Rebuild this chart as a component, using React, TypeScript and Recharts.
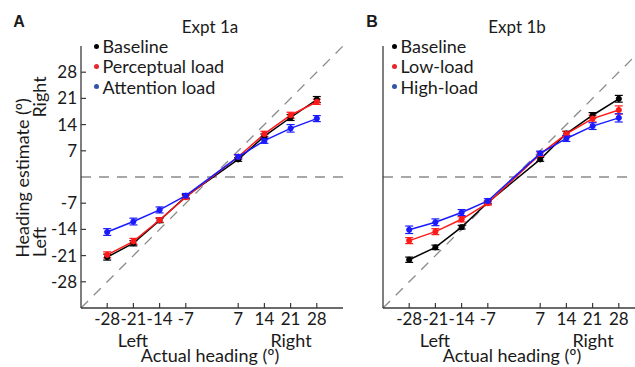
import React from "react";
import {
  ErrorBar,
  Legend,
  Line,
  LineChart,
  ReferenceLine,
  XAxis,
  YAxis,
} from "recharts";

// actual heading (deg)
const headings = [-28, -21, -14, -7, 7, 14, 21, 28];
const axisTicks = [-28, -21, -14, -7, 7, 14, 21, 28];

// Expt 1a
const baseline1a = [-21.4, -17.7, -11.6, -5.2, 4.7, 10.9, 15.9, 20.7];
const baseline1aErr = [0.8, 0.7, 0.6, 0.5, 0.5, 0.6, 0.8, 0.8];
const perceptual1a = [-20.8, -17.2, -11.5, -5.4, 5.4, 11.5, 16.5, 20.1];
const perceptual1aErr = [0.8, 0.8, 0.6, 0.5, 0.5, 0.7, 0.8, 0.7];
const attention1a = [-14.7, -11.9, -8.8, -5.0, 5.4, 9.7, 13.0, 15.6];
const attention1aErr = [0.9, 0.9, 0.8, 0.6, 0.6, 0.7, 1.0, 0.8];

// Expt 1b
const baseline1b = [-22.1, -18.8, -13.4, -6.8, 4.7, 11.6, 16.5, 20.9];
const baseline1bErr = [0.7, 0.6, 0.5, 0.4, 0.5, 0.6, 0.7, 0.9];
const low1b = [-17.0, -14.6, -11.3, -7.0, 6.1, 11.5, 15.6, 17.9];
const low1bErr = [0.8, 0.8, 0.7, 0.5, 0.6, 0.7, 0.9, 1.1];
const high1b = [-14.1, -12.1, -9.5, -6.4, 6.3, 10.3, 13.6, 15.8];
const high1bErr = [1.0, 0.9, 0.8, 0.6, 0.6, 0.8, 0.9, 1.1];

type Series = {
  key: string;
  name: string;
  color: string;
  legendColor: string;
  values: number[];
  errors: number[];
};

const seriesA: Series[] = [
  { key: "baseline", name: "Baseline", color: "#000000", legendColor: "#000000", values: baseline1a, errors: baseline1aErr },
  { key: "perceptual", name: "Perceptual load", color: "#ff1a1a", legendColor: "#e8262b", values: perceptual1a, errors: perceptual1aErr },
  { key: "attention", name: "Attention load", color: "#1a1aff", legendColor: "#2f55a8", values: attention1a, errors: attention1aErr },
];

const seriesB: Series[] = [
  { key: "baseline", name: "Baseline", color: "#000000", legendColor: "#000000", values: baseline1b, errors: baseline1bErr },
  { key: "low", name: "Low-load", color: "#ff1a1a", legendColor: "#e8262b", values: low1b, errors: low1bErr },
  { key: "high", name: "High-load", color: "#1a1aff", legendColor: "#2f55a8", values: high1b, errors: high1bErr },
];

const FONT = "Lato, 'Open Sans', sans-serif";
const AXIS = "#3a3a3a";
const DASH = "#8a8a8a";

function Panel({
  series,
  left,
  width,
  marginLeft,
  marginRight,
  showYLabels,
  legendLeft,
}: {
  series: Series[];
  left: number;
  width: number;
  marginLeft: number;
  marginRight: number;
  showYLabels: boolean;
  legendLeft: number;
}) {
  const data = headings.map((h, i) => {
    const row: Record<string, number> = { heading: h };
    series.forEach((s) => {
      row[s.key] = s.values[i];
      row[s.key + "Err"] = s.errors[i];
    });
    return row;
  });

  return (
    <div style={{ position: "absolute", left, top: 0 }}>
      <LineChart
        width={width}
        height={367}
        data={data}
        margin={{ top: 46, right: marginRight, bottom: 29, left: marginLeft }}
      >
        <XAxis
          dataKey="heading"
          type="number"
          domain={[-35, 35]}
          ticks={axisTicks}
          interval={0}
          height={30}
          tickSize={-5}
          tickMargin={10}
          axisLine={{ stroke: AXIS, strokeWidth: 1.3 }}
          tickLine={{ stroke: AXIS, strokeWidth: 1.2 }}
          tick={{ fill: "#1a1a1a", fontSize: 17, fontFamily: FONT }}
        />
        <YAxis
          type="number"
          domain={[-35, 35]}
          ticks={axisTicks}
          interval={0}
          width={30}
          tickSize={-5}
          tickMargin={9}
          axisLine={{ stroke: AXIS, strokeWidth: 1.3 }}
          tickLine={{ stroke: AXIS, strokeWidth: 1.2 }}
          tick={showYLabels ? { fill: "#1a1a1a", fontSize: 17, fontFamily: FONT } : false}
        />
        <ReferenceLine y={0} stroke={DASH} strokeWidth={1.3} strokeDasharray="10 8" />
        <ReferenceLine
          segment={[
            { x: -35, y: -35 },
            { x: 35, y: 35 },
          ]}
          stroke={DASH}
          strokeWidth={1.3}
          strokeDasharray="10 8"
        />
        <Legend
          layout="vertical"
          align="center"
          verticalAlign="middle"
          wrapperStyle={{ left: legendLeft, top: 36, width: 200 }}
          content={() => (
            <div style={{ fontFamily: FONT, fontSize: 18, color: "#1a1a1a" }}>
              {series.map((s) => (
                <div key={s.key} style={{ display: "flex", alignItems: "center", height: 20.3 }}>
                  <span
                    style={{
                      width: 5,
                      height: 5,
                      borderRadius: "50%",
                      background: s.legendColor,
                      marginRight: 4,
                      display: "inline-block",
                    }}
                  />
                  <span>{s.name}</span>
                </div>
              ))}
            </div>
          )}
        />
        {series.map((s) => (
          <Line
            key={s.key}
            type="linear"
            dataKey={s.key}
            name={s.name}
            stroke={s.color}
            strokeWidth={1.5}
            dot={{ r: 2.6, fill: s.color, stroke: s.color, strokeWidth: 1 }}
            isAnimationActive={false}
          >
            <ErrorBar
              dataKey={s.key + "Err"}
              direction="y"
              width={4}
              stroke={s.color}
              strokeWidth={1.2}
              isAnimationActive={false}
            />
          </Line>
        ))}
      </LineChart>
    </div>
  );
}

export default function App() {
  return (
    <div
      style={{
        position: "fixed",
        left: 0,
        top: 0,
        width: 635,
        height: 367,
        overflow: "hidden",
        background: "#fff",
        fontFamily: FONT,
      }}
    >
      <Panel series={seriesA} left={0} width={360} marginLeft={51} marginRight={17} showYLabels legendLeft={93.5} />
      <Panel series={seriesB} left={330} width={330} marginLeft={23} marginRight={15} showYLabels={false} legendLeft={61.5} />
      <svg
        width={635}
        height={367}
        style={{ position: "absolute", left: 0, top: 0, pointerEvents: "none" }}
        fontFamily={FONT}
        fill="#1a1a1a"
      >
        <text x={19} y={21} fontSize={16} fontWeight={700} fontFamily="Arial, 'Liberation Sans', sans-serif" textAnchor="middle" dominantBaseline="central">A</text>
        <text x={372} y={21} fontSize={16} fontWeight={700} fontFamily="Arial, 'Liberation Sans', sans-serif" textAnchor="middle" dominantBaseline="central">B</text>
        <text x={210} y={26} fontSize={17} textAnchor="middle" dominantBaseline="central">Expt 1a</text>
        <text x={517} y={26} fontSize={17} textAnchor="middle" dominantBaseline="central">Expt 1b</text>

        <text transform="translate(22,178) rotate(-90)" fontSize={18} textAnchor="middle" dominantBaseline="central">Heading estimate (º)</text>
        <text transform="translate(39,97) rotate(-90)" fontSize={18} textAnchor="middle" dominantBaseline="central">Right</text>
        <text transform="translate(39,242) rotate(-90)" fontSize={18} textAnchor="middle" dominantBaseline="central">Left</text>

        <text x={133} y={339.5} fontSize={18} textAnchor="middle" dominantBaseline="central">Left</text>
        <text x={291} y={339.5} fontSize={18} textAnchor="middle" dominantBaseline="central">Right</text>
        <text x={210} y={355} fontSize={18} textAnchor="middle" dominantBaseline="central">Actual heading (º)</text>

        <text x={435} y={339.5} fontSize={18} textAnchor="middle" dominantBaseline="central">Left</text>
        <text x={593} y={339.5} fontSize={18} textAnchor="middle" dominantBaseline="central">Right</text>
        <text x={512} y={355} fontSize={18} textAnchor="middle" dominantBaseline="central">Actual heading (º)</text>
      </svg>
    </div>
  );
}
